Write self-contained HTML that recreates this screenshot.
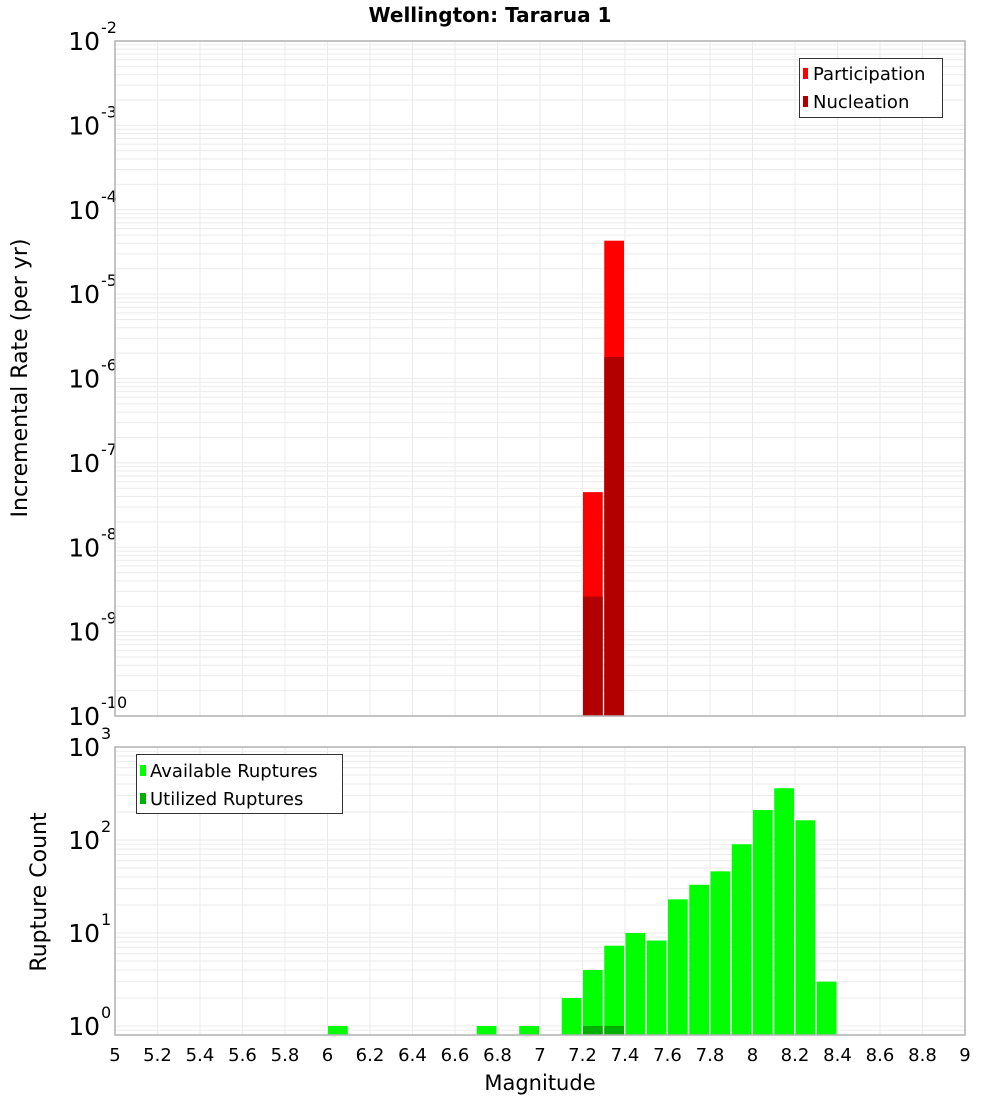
<!DOCTYPE html>
<html><head><meta charset="utf-8"><style>
body{margin:0;background:#fff;font-family:"DejaVu Sans","Liberation Sans",sans-serif}
svg text{font-family:"DejaVu Sans","Liberation Sans",sans-serif}
</style></head><body>
<svg id="c" width="1000" height="1100" xmlns="http://www.w3.org/2000/svg">
<text x="490" y="22" font-size="20" font-weight="bold" text-anchor="middle">Wellington: Tararua 1</text>
<g id="top"></g><g id="bot"></g>
</svg>
<script>
const topBins=[7.25,7.35];
const partRates=[4.5e-8,4.3e-5];
const nuclRates=[2.6e-9,1.8e-6];
const botBins=[6.05,6.75,6.95,7.15,7.25,7.35,7.45,7.55,7.65,7.75,7.85,7.95,8.05,8.15,8.25,8.35];
const availCounts=[1,1,1,2,4,7.3,10,8.3,23,33,46,90,210,360,163,3];
const utilBins=[7.25,7.35];
const utilCounts=[1,1];
const xTicks=[5,5.2,5.4,5.6,5.8,6,6.2,6.4,6.6,6.8,7,7.2,7.4,7.6,7.8,8,8.2,8.4,8.6,8.8,9];

const NS="http://www.w3.org/2000/svg";
const X0=115,X1=965;
const xs=m=>X0+(m-5)/4*(X1-X0);
function mk(p,t,a){const e=document.createElementNS(NS,t);for(const k in a)e.setAttribute(k,a[k]);p.appendChild(e);return e;}

function panel(g,top,bottom,yAt,eMin,eMax){
  for(let e=eMin;e<=eMax;e++){for(let k=1;k<10;k++){const y=yAt(k*Math.pow(10,e));if(y<top-0.5||y>bottom+0.5)continue;
    const l=mk(g,'line',{x1:X0,x2:X1,y1:y,y2:y,stroke:'#ebebeb','stroke-width':1});
    
    }}
  xTicks.forEach(t=>{const l=mk(g,'line',{x1:xs(t),x2:xs(t),y1:top,y2:bottom,stroke:'#ebebeb','stroke-width':1});
    
    });
}
function ylabels(g,yAt,exps,off){
  exps.forEach(e=>{const y=yAt(Math.pow(10,e));const t=mk(g,'text',{x:100,y:y+off,'font-size':25,'text-anchor':'end'});
    t.textContent='10';
    
    
    const s=mk(g,'text',{x:101,y:y+off-17,'font-size':16});s.textContent=String(e);
    
    });
}
function bar(g,m,v,yAt,base,fill,name){
  const x=xs(m-0.05)+0.5,w=xs(m+0.05)-xs(m-0.05)-1.5,y=yAt(v);
  const r=mk(g,'rect',{x:x,y:y,width:w,height:base-y,fill:fill});
  
  
}
// top panel
const gT=document.getElementById('top');
const T0=41,T1=716;
const yT=v=>T0+(-2-Math.log10(v))*(T1-T0)/8;
panel(gT,T0,T1,yT,-10,-3);
ylabels(gT,yT,[-2,-3,-4,-5,-6,-7,-8,-9,-10],9);
topBins.forEach((m,i)=>bar(gT,m,partRates[i],yT,T1,'#ff0000','participation-bar'));
topBins.forEach((m,i)=>bar(gT,m,nuclRates[i],yT,T1,'#b20000','nucleation-bar'));
const bT=mk(gT,'rect',{x:X0,y:T0,width:X1-X0,height:T1-T0,fill:'none',stroke:'#b0b0b0','stroke-width':1.5});


// bottom panel
const gB=document.getElementById('bot');
const B0=747,B1=1035;
const yB=v=>1026-Math.log10(v)*(1026-747)/3;
panel(gB,B0,B1,yB,-1,2);
ylabels(gB,yB,[3,2,1,0],9);
botBins.forEach((m,i)=>bar(gB,m,availCounts[i],yB,B1,'#00ff00','available-bar'));
utilBins.forEach((m,i)=>bar(gB,m,utilCounts[i],yB,B1,'#00b000','utilized-bar'));
const bB=mk(gB,'rect',{x:X0,y:B0,width:X1-X0,height:B1-B0,fill:'none',stroke:'#b0b0b0','stroke-width':1.5});


xTicks.forEach(t=>{const e=mk(gB,'text',{x:xs(t),y:1061,'font-size':18,'text-anchor':'middle'});e.textContent=String(t);
  
  });
</script>
<svg style="position:absolute;left:0;top:0" width="1000" height="1100" xmlns="http://www.w3.org/2000/svg">
<text x="540" y="1090" font-size="21" text-anchor="middle">Magnitude</text>
<text transform="translate(27,378) rotate(-90)" font-size="22" text-anchor="middle">Incremental Rate (per yr)</text>
<text transform="translate(46,892) rotate(-90)" font-size="22" text-anchor="middle">Rupture Count</text>
<g>
<rect x="799.5" y="58.5" width="143" height="59" fill="#fff" stroke="#333" stroke-width="1"/>
<rect x="803" y="68" width="5" height="11" fill="#ff0000"/>
<text x="813" y="80" font-size="18">Participation</text>
<rect x="803" y="96" width="5" height="11" fill="#b20000"/>
<text x="813" y="108" font-size="18">Nucleation</text>
</g>
<g>
<rect x="136.5" y="754.5" width="206" height="59" fill="#fff" stroke="#333" stroke-width="1"/>
<rect x="140" y="765" width="6" height="11" fill="#00ff00"/>
<text x="150" y="777" font-size="18">Available Ruptures</text>
<rect x="140" y="793" width="6" height="11" fill="#00b000"/>
<text x="150" y="805" font-size="18">Utilized Ruptures</text>
</g>
</svg>
</body></html>
